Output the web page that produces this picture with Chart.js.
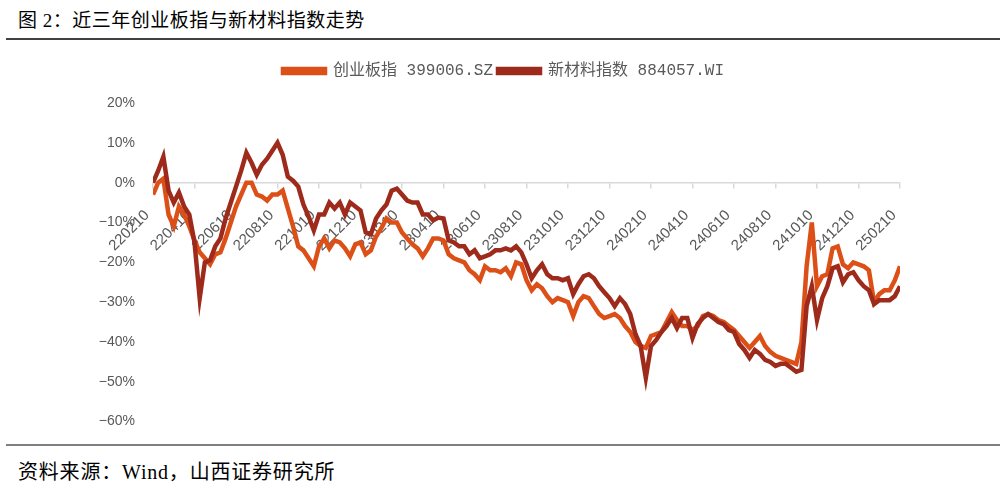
<!DOCTYPE html>
<html>
<head>
<meta charset="utf-8">
<script src="https://cdn.jsdelivr.net/npm/chart.js@4.4.1/dist/chart.umd.min.js"></script>
<style>
  body { margin: 0; background: #fff; width: 1007px; height: 486px; position: relative; overflow: hidden; }
  .title { position: absolute; left: 18px; top: 5px; font-size: 19px; letter-spacing: 0.5px; font-family: "Liberation Serif", "Noto Sans CJK SC"; color: #000; white-space: nowrap; }
  .source { position: absolute; left: 18px; top: 456px; font-size: 20px; letter-spacing: 0.8px; font-family: "Liberation Serif", "Noto Sans CJK SC"; color: #000; white-space: nowrap; }
  .rule { position: absolute; left: 6px; width: 994px; }
  #wrap { position: absolute; left: 0; top: 45px; width: 1007px; height: 395px; }
</style>
</head>
<body>
<div class="title">图 2：近三年创业板指与新材料指数走势</div>
<div class="rule" style="top:38px;height:2px;background:#404040"></div>
<div id="wrap"><canvas id="chart"></canvas></div>
<div class="rule" style="top:444px;height:2px;background:#808080"></div>
<div class="source">资料来源：Wind，山西证券研究所</div>
<script>
// tick labels, one every 8 points (roughly weekly points, 2 months apart)
const tickLabels = ['220210', '220410', '220610', '220810', '221010', '221210', '230210', '230410', '230610', '230810',
    '231010', '231210', '240210', '240410', '240610', '240810', '241010', '241210', '250210'];
const pointsPerTick = 8;

// 创业板指 399006.SZ, cumulative change %
const cybValues = [
    -3, 0, 1, -8, -11, -6, -8, -11, -14.5, -17.5,
    -19, -20.5, -18, -17.5, -14, -10, -6, -3, 0, 0,
    -3, -3.5, -4.5, -3, -3, -2, -6.5, -11, -16, -17,
    -19, -21, -16, -14, -16.5, -14.5, -15, -16.5, -18.5, -15.5,
    -15, -18, -17, -13.5, -11.5, -9, -10, -10, -12.5, -14,
    -15.5, -16.5, -18.5, -16.5, -14, -14, -14.5, -18, -19, -19.5,
    -20, -22, -23, -24.5, -21, -22, -22, -22.5, -21.5, -23.5,
    -20, -20.5, -24.5, -27, -25.5, -26.5, -28.5, -30, -29, -29.5,
    -30, -33.5, -30, -28.5, -29, -31, -33, -34, -33.5, -33,
    -34, -36, -37.5, -40, -41, -41.5, -38.5, -38, -37.5, -35,
    -32.5, -34.5, -36, -36, -37, -36, -33.5, -33, -33.5, -34.5,
    -35, -36, -37, -38.5, -40, -41.5, -40, -38.5, -41, -42.5,
    -43.5, -44, -44.5, -45, -45.5, -40, -21, -10, -26, -23.5,
    -23, -16.5, -16, -20.5, -21.5, -20, -20.5, -21, -22, -30,
    -28, -27, -27, -24.5, -21
];

// 新材料指数 884057.WI, cumulative change %
const xclValues = [
    0, 3, 6.5, -2, -5, -2.5, -6, -8, -15, -29,
    -20, -19.5, -16, -14, -9, -5, -1, 3, 7.5, 5,
    2, 4.5, 6, 8, 10, 7, 1.5, 0.5, -1, -5.5,
    -8.5, -12, -8, -8, -5, -6.5, -5, -8, -5, -6,
    -7, -12.5, -13, -9, -7, -5.5, -2, -1.5, -3, -4.5,
    -5, -5, -8, -8, -9.5, -8.75, -9, -14.5, -15, -16,
    -16, -18, -17, -19, -18.5, -18, -17, -17, -16.5, -17,
    -16, -17.5, -20.5, -24, -22, -20.5, -23, -24, -24, -24.5,
    -24, -28, -25.5, -23.5, -23, -24, -26, -27.5, -29, -31,
    -29, -30.5, -33, -38, -41, -49, -41, -39.5, -37.5, -36,
    -34, -36.5, -34, -34, -39, -35.5, -34, -33, -34, -35,
    -35.5, -37, -37.5, -40.5, -42, -44, -42, -43, -44.5, -45,
    -46, -45.5, -45.5, -46.5, -47.5, -47, -31, -26, -34.5, -29,
    -26, -21.5, -21, -25, -23, -22.5, -24.5, -26, -27, -30.5,
    -29.5, -29.5, -29.5, -28.5, -26
];

const toPoints = arr => arr.map((v, i) => ({ x: i, y: v }));
const grey = '#595959';

// leave more room under the legend
const legendGap = {
    id: 'legendGap',
    beforeInit(chart) {
        const fit = chart.legend.fit;
        chart.legend.fit = function () {
            fit.call(this);
            this.height += 14;
        };
    }
};

new Chart(document.getElementById('chart').getContext('2d'), {
    type: 'line',
    data: {
        datasets: [{
            label: '创业板指 399006.SZ',
            data: toPoints(cybValues),
            borderColor: '#DC4F17',
            backgroundColor: '#DC4F17',
            borderWidth: 4.5,
            pointRadius: 0,
            tension: 0,
            order: 1
        }, {
            label: '新材料指数 884057.WI',
            data: toPoints(xclValues),
            borderColor: '#9E2A1C',
            backgroundColor: '#9E2A1C',
            borderWidth: 4.5,
            pointRadius: 0,
            tension: 0,
            order: 0
        }]
    },
    options: {
        responsive: true,
        maintainAspectRatio: false,
        animation: false,
        layout: { padding: { top: 13, bottom: 15 } },
        scales: {
            x: {
                type: 'linear',
                position: { y: 0 },
                min: 0,
                max: (tickLabels.length - 1) * pointsPerTick,
                z: 1,
                ticks: {
                    stepSize: pointsPerTick,
                    autoSkip: false,
                    minRotation: 45,
                    maxRotation: 45,
                    padding: 19,
                    labelOffset: -6,
                    color: grey,
                    font: { size: 15, family: '"Liberation Sans", Arial' },
                    callback: v => tickLabels[Math.round(v / pointsPerTick)]
                },
                grid: { drawOnChartArea: false, drawTicks: true, tickLength: 5, tickColor: '#d9d9d9', lineWidth: 1.5 },
                border: { display: true, color: '#d9d9d9', width: 1.5 }
            },
            y: {
                min: -60,
                max: 20,
                afterFit: s => { s.width = 153; },
                ticks: {
                    stepSize: 10,
                    padding: 10,
                    color: grey,
                    font: { size: 14, family: '"Liberation Sans", Arial' },
                    callback: v => (v < 0 ? '\u2212' + Math.abs(v) : v) + '%'
                },
                grid: { display: false },
                border: { display: false }
            },
            yRight: {
                position: 'right',
                afterFit: s => { s.width = 107; },
                ticks: { display: false },
                grid: { display: false },
                border: { display: false }
            }
        },
        plugins: {
            legend: {
                position: 'top',
                labels: {
                    boxWidth: 42,
                    boxHeight: 4,
                    padding: 5,
                    color: grey,
                    font: { size: 16, family: '"Liberation Mono", "Noto Sans CJK SC"' },
                    sort: (a, b) => a.datasetIndex - b.datasetIndex
                }
            },
            tooltip: { enabled: false }
        }
    },
    plugins: [legendGap]
});
</script>
</body>
</html>
